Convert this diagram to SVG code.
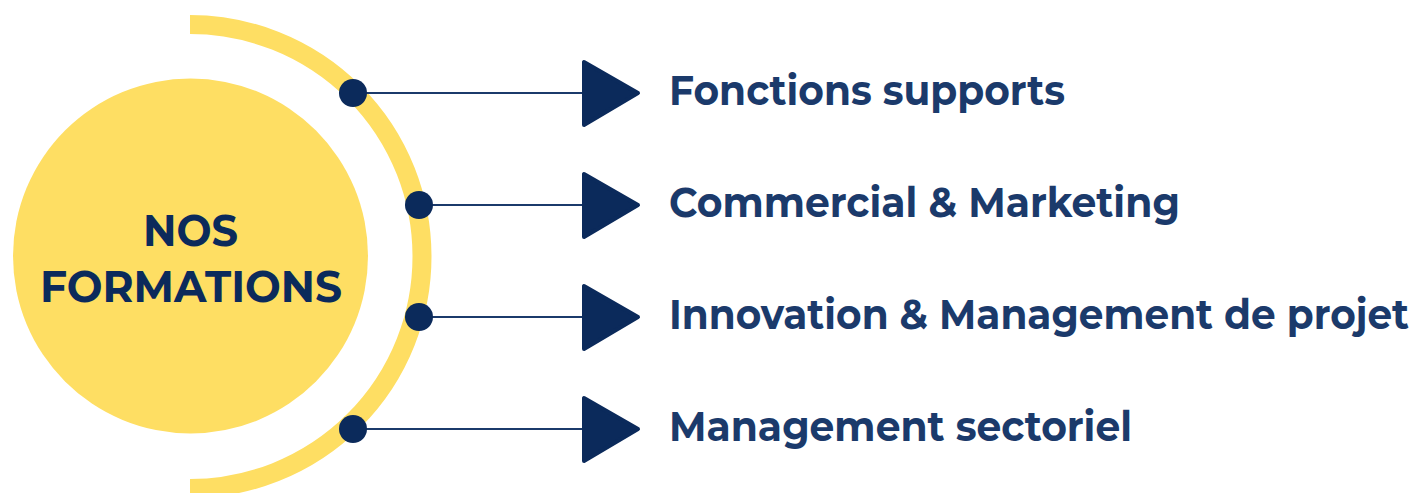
<svg xmlns="http://www.w3.org/2000/svg" width="1421" height="493" viewBox="0 0 1421 493">
<style>
.lbl{font-family:Montserrat,"Open Sans","Liberation Sans",sans-serif;font-weight:700;font-size:41px;fill:#1b3a6b}
.ctr{font-family:Montserrat,"Open Sans","Liberation Sans",sans-serif;font-weight:700;font-size:43px;fill:#0b2a5b;text-anchor:middle}
.con{stroke:#1b3a6b;stroke-width:2.2;fill:none}
.dot{fill:#0b2a5b}
.tri{fill:#0b2a5b;stroke:#0b2a5b;stroke-width:4;stroke-linejoin:round}
</style>
<rect width="1421" height="493" fill="#ffffff"/>
<g id="arc">
<path d="M190,24.5 A232,232 0 0 1 190,488.5" fill="none" stroke="#FEDE63" stroke-width="19"/>
</g>
<g id="center">
<circle cx="190.5" cy="256" r="177.5" fill="#FEDE63"/>
<text class="ctr" x="190.5" y="246" textLength="95" lengthAdjust="spacingAndGlyphs">NOS</text>
<text class="ctr" x="191" y="302" textLength="302" lengthAdjust="spacingAndGlyphs">FORMATIONS</text>
</g>
<g id="connectors">
<line class="con" x1="353" y1="93" x2="590" y2="93"/>
<line class="con" x1="419" y1="205" x2="590" y2="205"/>
<line class="con" x1="419" y1="317" x2="590" y2="317"/>
<line class="con" x1="353" y1="429" x2="590" y2="429"/>
<circle class="dot" cx="353" cy="93" r="14"/>
<circle class="dot" cx="419" cy="205" r="14"/>
<circle class="dot" cx="419" cy="317" r="14"/>
<circle class="dot" cx="353" cy="429" r="14"/>
<polygon class="tri" points="584,62 584,125 638,93"/>
<polygon class="tri" points="584,174 584,237 638,205"/>
<polygon class="tri" points="584,286 584,349 638,317"/>
<polygon class="tri" points="584,398 584,461 638,429"/>
</g>
<g id="node-1"><text class="lbl" x="669" y="105" textLength="396" lengthAdjust="spacingAndGlyphs">Fonctions supports</text></g>
<g id="node-2"><text class="lbl" x="669" y="217" textLength="511" lengthAdjust="spacingAndGlyphs">Commercial &amp; Marketing</text></g>
<g id="node-3"><text class="lbl" x="669" y="329" textLength="740" lengthAdjust="spacingAndGlyphs">Innovation &amp; Management de projet</text></g>
<g id="node-4"><text class="lbl" x="669" y="441" textLength="463" lengthAdjust="spacingAndGlyphs">Management sectoriel</text></g>
</svg>
